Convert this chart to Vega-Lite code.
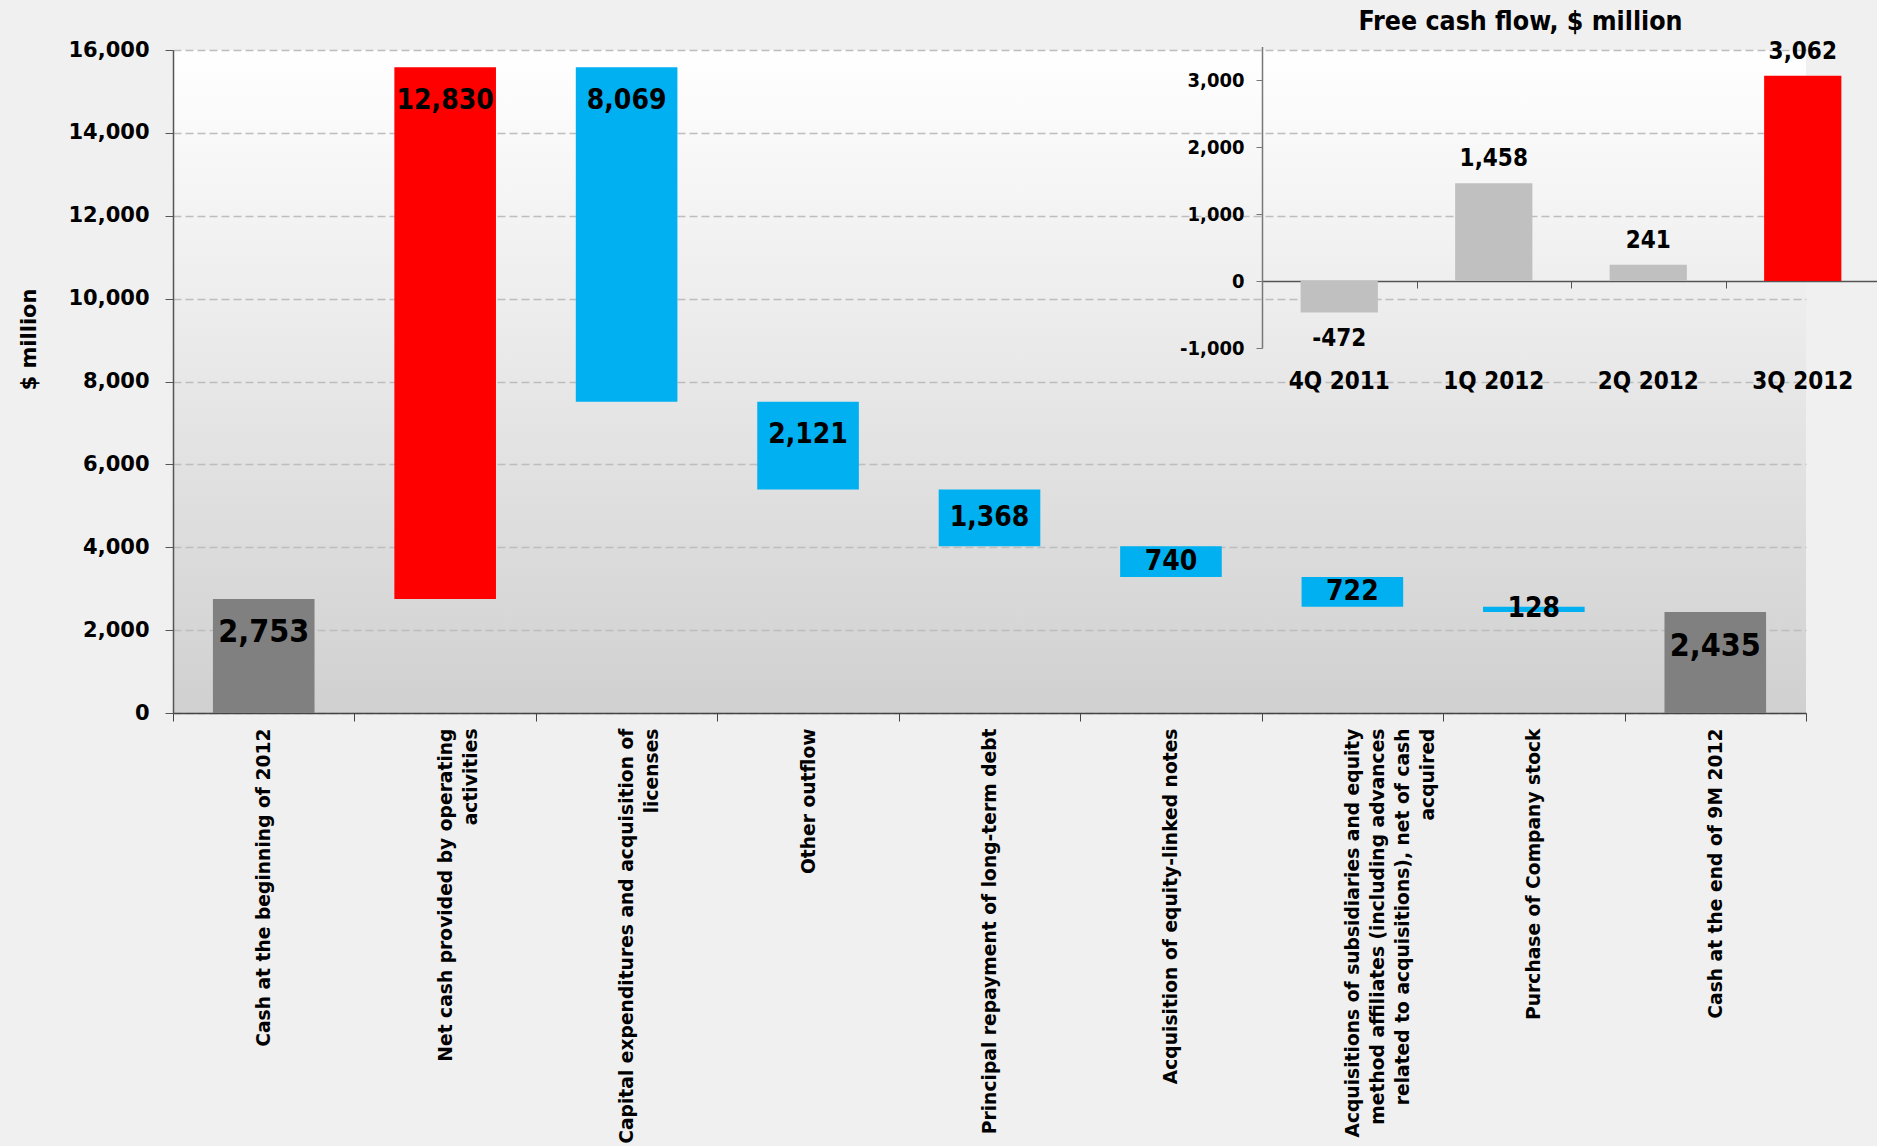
{
  "$schema": "https://vega.github.io/schema/vega-lite/v6.json",
  "width": 1633,
  "height": 663,
  "autosize": "none",
  "padding": {"left": 173, "top": 50, "right": 71, "bottom": 433},
  "background": "#f0f0f0",
  "config": {
    "view": {"stroke": null, "fill": {"gradient": "linear", "x1": 0, "y1": 0, "x2": 0, "y2": 1, "stops": [{"offset": 0, "color": "#ffffff"}, {"offset": 1, "color": "#d0d0d0"}]}},
    "font": "DejaVu Sans"
  },
  "title": {
    "text": "Free cash flow, $ million",
    "font": "DejaVu Sans Condensed",
    "fontSize": 26.5,
    "fontWeight": "bold",
    "color": "#000000",
    "anchor": "middle",
    "frame": "group",
    "dx": 531,
    "dy": 27,
    "offset": 4,
    "baseline": "bottom"
  },
  "datasets": {
    "flow": [
      {"item": "Cash at the beginning of 2012", "kind": "total", "value": 2753, "lo": 0, "hi": 2753},
      {"item": "Net cash provided by operating|activities", "kind": "inflow", "value": 12830, "lo": 2753, "hi": 15583},
      {"item": "Capital expenditures and acquisition of|licenses", "kind": "outflow", "value": 8069, "lo": 7514, "hi": 15583},
      {"item": "Other outflow", "kind": "outflow", "value": 2121, "lo": 5393, "hi": 7514},
      {"item": "Principal repayment of long-term debt", "kind": "outflow", "value": 1368, "lo": 4025, "hi": 5393},
      {"item": "Acquisition of equity-linked notes", "kind": "outflow", "value": 740, "lo": 3285, "hi": 4025},
      {"item": "Acquisitions of subsidiaries and equity|method affiliates (including advances|related to acquisitions), net of cash|acquired", "kind": "outflow", "value": 722, "lo": 2563, "hi": 3285},
      {"item": "Purchase of Company stock", "kind": "outflow", "value": 128, "lo": 2435, "hi": 2563},
      {"item": "Cash at the end of 9M 2012", "kind": "total", "value": 2435, "lo": 0, "hi": 2435}
    ],
    "fcf": [
      {"quarter": "4Q 2011", "fcf": -472},
      {"quarter": "1Q 2012", "fcf": 1458},
      {"quarter": "2Q 2012", "fcf": 241},
      {"quarter": "3Q 2012", "fcf": 3062}
    ]
  },
  "layer": [
    {
      "data": {"name": "flow"},
      "encoding": {
        "x": {
          "field": "item", "type": "nominal", "sort": null,
          "scale": {"paddingInner": 0, "paddingOuter": 0},
          "axis": {
            "title": null,
            "labelAngle": -90,
            "labelExpr": "split(datum.label, '|')",
            "labelFont": "DejaVu Sans",
            "labelFontSize": 18.7,
            "labelFontWeight": "bold",
            "labelColor": "#000000",
            "labelLineHeight": 25,
            "labelLimit": 0,
            "labelPadding": 7,
            "tickBand": "extent",
            "tickSize": 8,
            "tickColor": "#444444",
            "domainColor": "#444444",
            "domainWidth": 1.5,
            "grid": false
          }
        }
      },
      "layer": [
        {
          "mark": {"type": "bar", "width": {"band": 0.56}},
          "encoding": {
            "y": {
              "field": "hi", "type": "quantitative", "title": "$ million",
              "scale": {"domain": [0, 16000], "nice": false},
              "axis": {
                "titleFont": "DejaVu Sans",
                "titleFontSize": 21,
                "titleFontWeight": "bold",
                "titleColor": "#000000",
                "titlePadding": 28,
                "titleY": 289,
                "values": [0, 2000, 4000, 6000, 8000, 10000, 12000, 14000, 16000],
                "labelExpr": "format(datum.value, ',')",
                "labelFont": "DejaVu Sans",
                "labelFontSize": 21,
                "labelFontWeight": "bold",
                "labelColor": "#000000",
                "labelPadding": 16,
                "tickSize": 8,
                "tickColor": "#555555",
                "domainColor": "#555555",
                "domainWidth": 1.5,
                "grid": true,
                "gridColor": "#bdbdbd",
                "gridDash": [8, 4],
                "gridWidth": 1.5
              }
            },
            "y2": {"field": "lo"},
            "color": {
              "field": "kind", "type": "nominal",
              "scale": {"domain": ["total", "inflow", "outflow"], "range": ["#808080", "#ff0000", "#00b0f0"]},
              "legend": null
            }
          }
        },
        {
          "transform": [{"calculate": "max((datum.lo + datum.hi) / 2, datum.hi - 810)", "as": "labelY"}],
          "mark": {"type": "text", "font": "DejaVu Sans Condensed", "fontWeight": "bold", "baseline": "middle", "color": "#000000"},
          "encoding": {
            "y": {"field": "labelY", "type": "quantitative", "title": "$ million"},
            "text": {"field": "value", "type": "quantitative", "format": ","},
            "size": {"condition": {"test": "datum.kind === 'total'", "value": 32}, "value": 28}
          }
        }
      ]
    },
    {
      "data": {"name": "fcf"},
      "transform": [{"calculate": "datum.fcf < 0 ? '-' + format(-datum.fcf, ',') : format(datum.fcf, ',')", "as": "fcfLabel"}],
      "encoding": {
        "x": {
          "field": "quarter", "type": "nominal", "sort": null,
          "scale": {"range": [1089, 1707], "paddingInner": 0, "paddingOuter": 0},
          "axis": {
            "orient": "bottom",
            "offset": -432,
            "title": null,
            "labels": false,
            "tickBand": "extent",
            "tickSize": 7,
            "tickColor": "#555555",
            "domainColor": "#555555",
            "domainWidth": 1.5,
            "grid": false
          }
        }
      },
      "layer": [
        {
          "mark": {"type": "bar", "width": {"band": 0.5}},
          "encoding": {
            "y": {
              "field": "fcf", "type": "quantitative", "title": null,
              "scale": {"domain": [-1000, 3500], "range": [298, -3.5], "nice": false, "zero": false},
              "axis": {
                "orient": "left",
                "offset": -1089,
                "values": [-1000, 0, 1000, 2000, 3000],
                "labelExpr": "datum.value < 0 ? '-' + format(-datum.value, ',') : format(datum.value, ',')",
                "labelFont": "DejaVu Sans Condensed",
                "labelFontSize": 20,
                "labelFontWeight": "bold",
                "labelColor": "#000000",
                "labelPadding": 12,
                "tickSize": 6,
                "tickColor": "#777777",
                "domainColor": "#777777",
                "domainWidth": 1.5,
                "grid": false
              }
            },
            "color": {"condition": {"test": "datum.quarter === '3Q 2012'", "value": "#ff0000"}, "value": "#c0c0c0"}
          }
        },
        {
          "transform": [{"filter": "datum.fcf >= 0"}],
          "mark": {"type": "text", "font": "DejaVu Sans Condensed", "fontWeight": "bold", "fontSize": 24, "baseline": "middle", "dy": -24, "color": "#000000"},
          "encoding": {
            "y": {"field": "fcf", "type": "quantitative", "title": null},
            "text": {"field": "fcfLabel", "type": "nominal"}
          }
        },
        {
          "transform": [{"filter": "datum.fcf < 0"}],
          "mark": {"type": "text", "font": "DejaVu Sans Condensed", "fontWeight": "bold", "fontSize": 24, "baseline": "middle", "dy": 26, "color": "#000000"},
          "encoding": {
            "y": {"field": "fcf", "type": "quantitative", "title": null},
            "text": {"field": "fcfLabel", "type": "nominal"}
          }
        },
        {
          "mark": {"type": "text", "font": "DejaVu Sans Condensed", "fontWeight": "bold", "fontSize": 24, "baseline": "middle", "dy": 34, "color": "#000000"},
          "encoding": {
            "y": {"datum": -1000},
            "text": {"field": "quarter", "type": "nominal"}
          }
        }
      ]
    }
  ],
  "resolve": {
    "scale": {"x": "independent", "y": "independent", "color": "independent"},
    "axis": {"x": "independent", "y": "independent"}
  }
}
